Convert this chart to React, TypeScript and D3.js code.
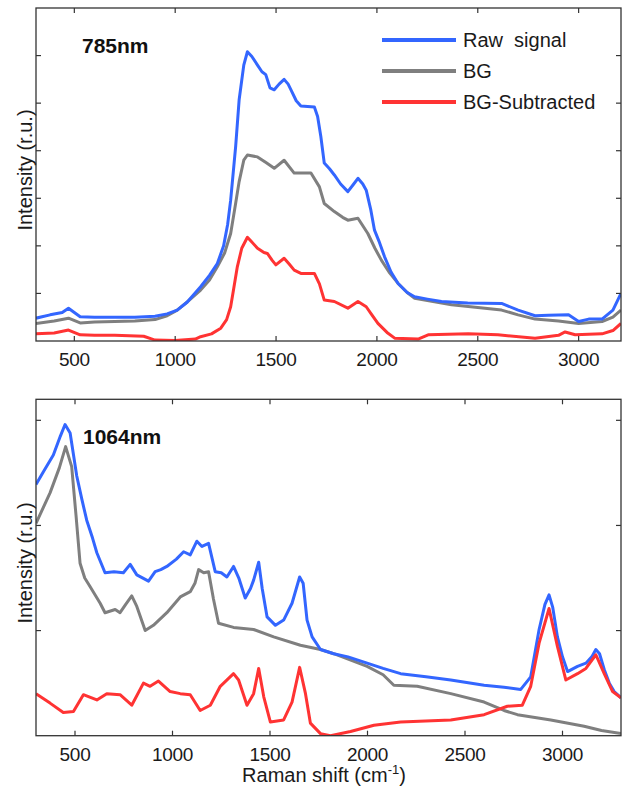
import React from "react";
import * as d3 from "d3";

// ---------- DATA ----------
const xTicks785 = [500, 1000, 1500, 2000, 2500, 3000];
const xTicks1064 = [500, 1000, 1500, 2000, 2500, 3000];
const yTicks785 = [1, 2, 3, 4, 5, 6];
const yTicks1064 = [1, 2, 3];
const seriesNames = ["Raw  signal", "BG", "BG-Subtracted"];
const seriesColors = ["#3366ff", "#7f7f7f", "#ff3333"];

// 785 nm panel
const raw785X = [310, 380, 440, 471, 500, 529, 600, 700, 800, 900, 960, 1010, 1060, 1126, 1170, 1209, 1240, 1260, 1275, 1300, 1317, 1340, 1358, 1380, 1408, 1430, 1449, 1470, 1491, 1515, 1540, 1560, 1574, 1600, 1623, 1690, 1706, 1722, 1739, 1765, 1789, 1820, 1856, 1885, 1906, 1930, 1947, 1970, 1988, 2010, 2038, 2070, 2105, 2150, 2187, 2250, 2320, 2450, 2618, 2700, 2784, 2850, 2950, 3000, 3050, 3116, 3170, 3210];
const raw785Y = [0.48, 0.55, 0.6, 0.69, 0.6, 0.51, 0.5, 0.5, 0.5, 0.52, 0.57, 0.65, 0.82, 1.14, 1.38, 1.63, 2.0, 2.45, 2.96, 4.1, 5.07, 5.8, 6.08, 5.98, 5.8, 5.66, 5.6, 5.32, 5.28, 5.4, 5.5, 5.4, 5.28, 5.05, 4.94, 4.92, 4.72, 4.3, 3.74, 3.62, 3.49, 3.3, 3.14, 3.3, 3.42, 3.3, 3.17, 2.75, 2.33, 2.1, 1.77, 1.45, 1.21, 1.02, 0.93, 0.88, 0.83, 0.8, 0.79, 0.65, 0.53, 0.54, 0.55, 0.41, 0.46, 0.46, 0.65, 1.0];
const bg785X = [310, 400, 471, 529, 600, 700, 800, 900, 960, 1010, 1060, 1126, 1170, 1209, 1245, 1275, 1300, 1317, 1340, 1358, 1408, 1450, 1491, 1540, 1590, 1673, 1715, 1739, 1789, 1830, 1856, 1906, 1955, 1990, 2022, 2060, 2105, 2150, 2187, 2370, 2618, 2700, 2784, 2900, 3000, 3116, 3170, 3210];
const bg785Y = [0.37, 0.42, 0.48, 0.38, 0.4, 0.41, 0.42, 0.45, 0.53, 0.65, 0.82, 1.07, 1.28, 1.56, 1.85, 2.26, 2.9, 3.35, 3.8, 3.91, 3.87, 3.75, 3.63, 3.8, 3.53, 3.53, 3.24, 2.89, 2.72, 2.6, 2.54, 2.58, 2.26, 1.95, 1.7, 1.45, 1.21, 1.02, 0.9, 0.76, 0.65, 0.55, 0.46, 0.42, 0.37, 0.41, 0.5, 0.65];
const sub785X = [310, 400, 471, 529, 600, 700, 844, 900, 1000, 1100, 1126, 1180, 1226, 1255, 1275, 1290, 1308, 1330, 1358, 1380, 1408, 1440, 1457, 1480, 1499, 1540, 1565, 1590, 1623, 1690, 1715, 1739, 1789, 1856, 1906, 1947, 1975, 2005, 2050, 2088, 2204, 2254, 2453, 2600, 2784, 2900, 2933, 2983, 3116, 3170, 3210];
const sub785Y = [0.15, 0.17, 0.23, 0.13, 0.12, 0.12, 0.1, 0.02, 0.01, 0.04, 0.09, 0.15, 0.27, 0.45, 0.72, 1.1, 1.56, 1.95, 2.18, 2.08, 1.95, 1.86, 1.84, 1.7, 1.6, 1.74, 1.62, 1.49, 1.42, 1.42, 1.2, 0.86, 0.83, 0.69, 0.83, 0.72, 0.55, 0.37, 0.18, 0.06, 0.04, 0.13, 0.15, 0.13, 0.06, 0.12, 0.19, 0.13, 0.15, 0.22, 0.37];

// 1064 nm panel
const raw1064X = [300, 338, 389, 425, 449, 475, 509, 535, 560, 590, 612, 654, 700, 748, 783, 817, 877, 911, 940, 971, 1020, 1057, 1091, 1125, 1151, 1185, 1219, 1250, 1279, 1313, 1340, 1373, 1400, 1416, 1442, 1460, 1485, 1528, 1570, 1613, 1652, 1670, 1690, 1716, 1759, 1827, 1900, 1998, 2080, 2170, 2300, 2427, 2598, 2700, 2786, 2837, 2880, 2910, 2931, 2950, 2974, 3000, 3026, 3077, 3120, 3150, 3171, 3190, 3214, 3240, 3265, 3300];
const raw1064Y = [2.39, 2.51, 2.67, 2.85, 2.96, 2.88, 2.47, 2.25, 2.05, 1.88, 1.74, 1.55, 1.56, 1.55, 1.63, 1.53, 1.47, 1.56, 1.58, 1.61, 1.68, 1.75, 1.72, 1.85, 1.8, 1.83, 1.56, 1.55, 1.51, 1.61, 1.5, 1.31, 1.4, 1.48, 1.65, 1.4, 1.13, 1.05, 1.1, 1.26, 1.51, 1.45, 1.1, 0.94, 0.82, 0.78, 0.75, 0.69, 0.64, 0.59, 0.56, 0.53, 0.48, 0.46, 0.44, 0.56, 1.01, 1.25, 1.34, 1.22, 0.94, 0.75, 0.61, 0.66, 0.69, 0.75, 0.82, 0.78, 0.63, 0.5, 0.42, 0.36];
const bg1064X = [300, 372, 420, 452, 483, 505, 526, 550, 577, 629, 654, 706, 731, 760, 791, 817, 860, 902, 971, 1040, 1091, 1115, 1134, 1160, 1185, 1210, 1236, 1313, 1416, 1519, 1656, 1759, 1827, 1998, 2080, 2135, 2255, 2427, 2598, 2700, 2769, 2940, 3111, 3200, 3300];
const bg1064Y = [2.02, 2.31, 2.55, 2.75, 2.56, 2.1, 1.64, 1.5, 1.42, 1.26, 1.17, 1.2, 1.17, 1.25, 1.33, 1.23, 1.0, 1.05, 1.17, 1.32, 1.37, 1.45, 1.58, 1.55, 1.56, 1.3, 1.07, 1.03, 1.01, 0.94, 0.86, 0.82, 0.78, 0.66, 0.58, 0.48, 0.47, 0.4, 0.32, 0.24, 0.2, 0.15, 0.09, 0.05, 0.02];
const sub1064X = [300, 372, 440, 492, 543, 612, 663, 731, 791, 851, 885, 928, 988, 1040, 1091, 1142, 1194, 1245, 1313, 1339, 1382, 1416, 1442, 1468, 1502, 1570, 1613, 1652, 1682, 1707, 1759, 1810, 1913, 2033, 2170, 2427, 2598, 2717, 2794, 2837, 2880, 2931, 2974, 3017, 3077, 3120, 3171, 3214, 3257, 3300];
const sub1064Y = [0.4, 0.31, 0.22, 0.23, 0.39, 0.34, 0.4, 0.39, 0.29, 0.5, 0.47, 0.52, 0.42, 0.4, 0.39, 0.24, 0.29, 0.47, 0.59, 0.53, 0.29, 0.4, 0.64, 0.37, 0.13, 0.15, 0.32, 0.65, 0.4, 0.12, 0.02, 0.0, 0.04, 0.1, 0.13, 0.15, 0.2, 0.28, 0.29, 0.47, 0.88, 1.21, 0.85, 0.53, 0.59, 0.64, 0.77, 0.59, 0.42, 0.36];

// ---------- LAYOUT ----------
const W = 623;
const H = 788;
const FONT = "'Liberation Sans', Arial, sans-serif";
const TEXT = "#1a1a1a";

type Series = { x: number[]; y: number[] };

function Panel(props: {
  id: string;
  left: number;
  right: number;
  top: number;
  bottom: number;
  xDomain: [number, number];
  yDomain: [number, number];
  xTicks: number[];
  yTicks: number[];
  series: Series[];
  title: string;
  titleX: number;
  titleY: number;
  tickLabelY: number;
  ylabelCenter: number;
}) {
  const { left, right, top, bottom } = props;
  const x = d3.scaleLinear().domain(props.xDomain).range([left, right]);
  const y = d3.scaleLinear().domain(props.yDomain).range([bottom, top]);
  const line = d3
    .line<[number, number]>()
    .x((d) => x(d[0]))
    .y((d) => y(d[1]))
    .curve(d3.curveLinear);
  const tl = 5;
  const order = [1, 0, 2];
  return (
    <g>
      <defs>
        <clipPath id={props.id}>
          <rect x={left} y={top} width={right - left} height={bottom - top} />
        </clipPath>
      </defs>
      <g clipPath={`url(#${props.id})`}>
        {order.map((i) => {
          const s = props.series[i];
          const pts = s.x.map((v, k) => [v, s.y[k]] as [number, number]);
          return (
            <path
              key={i}
              d={line(pts) || ""}
              fill="none"
              stroke={seriesColors[i]}
              strokeWidth={3}
              strokeLinejoin="round"
            />
          );
        })}
      </g>
      <rect
        x={left}
        y={top}
        width={right - left}
        height={bottom - top}
        fill="none"
        stroke="#333"
        strokeWidth={1.3}
      />
      {props.xTicks.map((t) => (
        <g key={"x" + t}>
          <line x1={x(t)} x2={x(t)} y1={top} y2={top + tl} stroke="#333" strokeWidth={1.2} />
          <line x1={x(t)} x2={x(t)} y1={bottom} y2={bottom - tl} stroke="#333" strokeWidth={1.2} />
          <text
            x={x(t)}
            y={props.tickLabelY}
            textAnchor="middle"
            fontFamily={FONT}
            fontSize={19}
            letterSpacing={-0.3}
            fill={TEXT}
          >
            {t}
          </text>
        </g>
      ))}
      {props.yTicks.map((t) => (
        <g key={"y" + t}>
          <line x1={left} x2={left + tl} y1={y(t)} y2={y(t)} stroke="#333" strokeWidth={1.2} />
          <line x1={right} x2={right - tl} y1={y(t)} y2={y(t)} stroke="#333" strokeWidth={1.2} />
        </g>
      ))}
      <text
        transform={`translate(32, ${props.ylabelCenter}) rotate(-90)`}
        textAnchor="middle"
        fontFamily={FONT}
        fontSize={20}
        fill={TEXT}
      >
        Intensity (r.u.)
      </text>
      <text
        x={props.titleX}
        y={props.titleY}
        fontFamily={FONT}
        fontSize={21}
        fontWeight="bold"
        fill="#111"
      >
        {props.title}
      </text>
    </g>
  );
}

export default function App() {
  const legendY = [40, 71, 102];
  return (
    <svg
      width={W}
      height={H}
      style={{ position: "absolute", left: 0, top: 0, background: "#fff" }}
    >
      <rect x={0} y={0} width={W} height={H} fill="#fff" />
      <Panel
        id="clip785"
        left={36}
        right={621}
        top={8}
        bottom={341}
        xDomain={[310, 3210]}
        yDomain={[0, 7]}
        xTicks={xTicks785}
        yTicks={yTicks785}
        series={[
          { x: raw785X, y: raw785Y },
          { x: bg785X, y: bg785Y },
          { x: sub785X, y: sub785Y },
        ]}
        title="785nm"
        titleX={82}
        titleY={53}
        tickLabelY={366}
        ylabelCenter={170}
      />
      <Panel
        id="clip1064"
        left={36}
        right={621}
        top={399.3}
        bottom={735.7}
        xDomain={[300, 3300]}
        yDomain={[0, 3.2]}
        xTicks={xTicks1064}
        yTicks={yTicks1064}
        series={[
          { x: raw1064X, y: raw1064Y },
          { x: bg1064X, y: bg1064Y },
          { x: sub1064X, y: sub1064Y },
        ]}
        title="1064nm"
        titleX={83}
        titleY={444}
        tickLabelY={761}
        ylabelCenter={563}
      />
      {seriesNames.map((n, i) => (
        <g key={n}>
          <line
            x1={382}
            x2={456}
            y1={legendY[i]}
            y2={legendY[i]}
            stroke={seriesColors[i]}
            strokeWidth={4}
          />
          <text
            x={463}
            y={legendY[i] + 7}
            fontFamily={FONT}
            fontSize={20}
            fill={TEXT}
            style={{ whiteSpace: "pre" }}
          >
            {n}
          </text>
        </g>
      ))}
      <text x={324} y={782} textAnchor="middle" fontFamily={FONT} fontSize={20} fill={TEXT}>
        Raman shift (cm
        <tspan fontSize={13} dy={-8}>
          -1
        </tspan>
        <tspan dy={8}>)</tspan>
      </text>
    </svg>
  );
}
